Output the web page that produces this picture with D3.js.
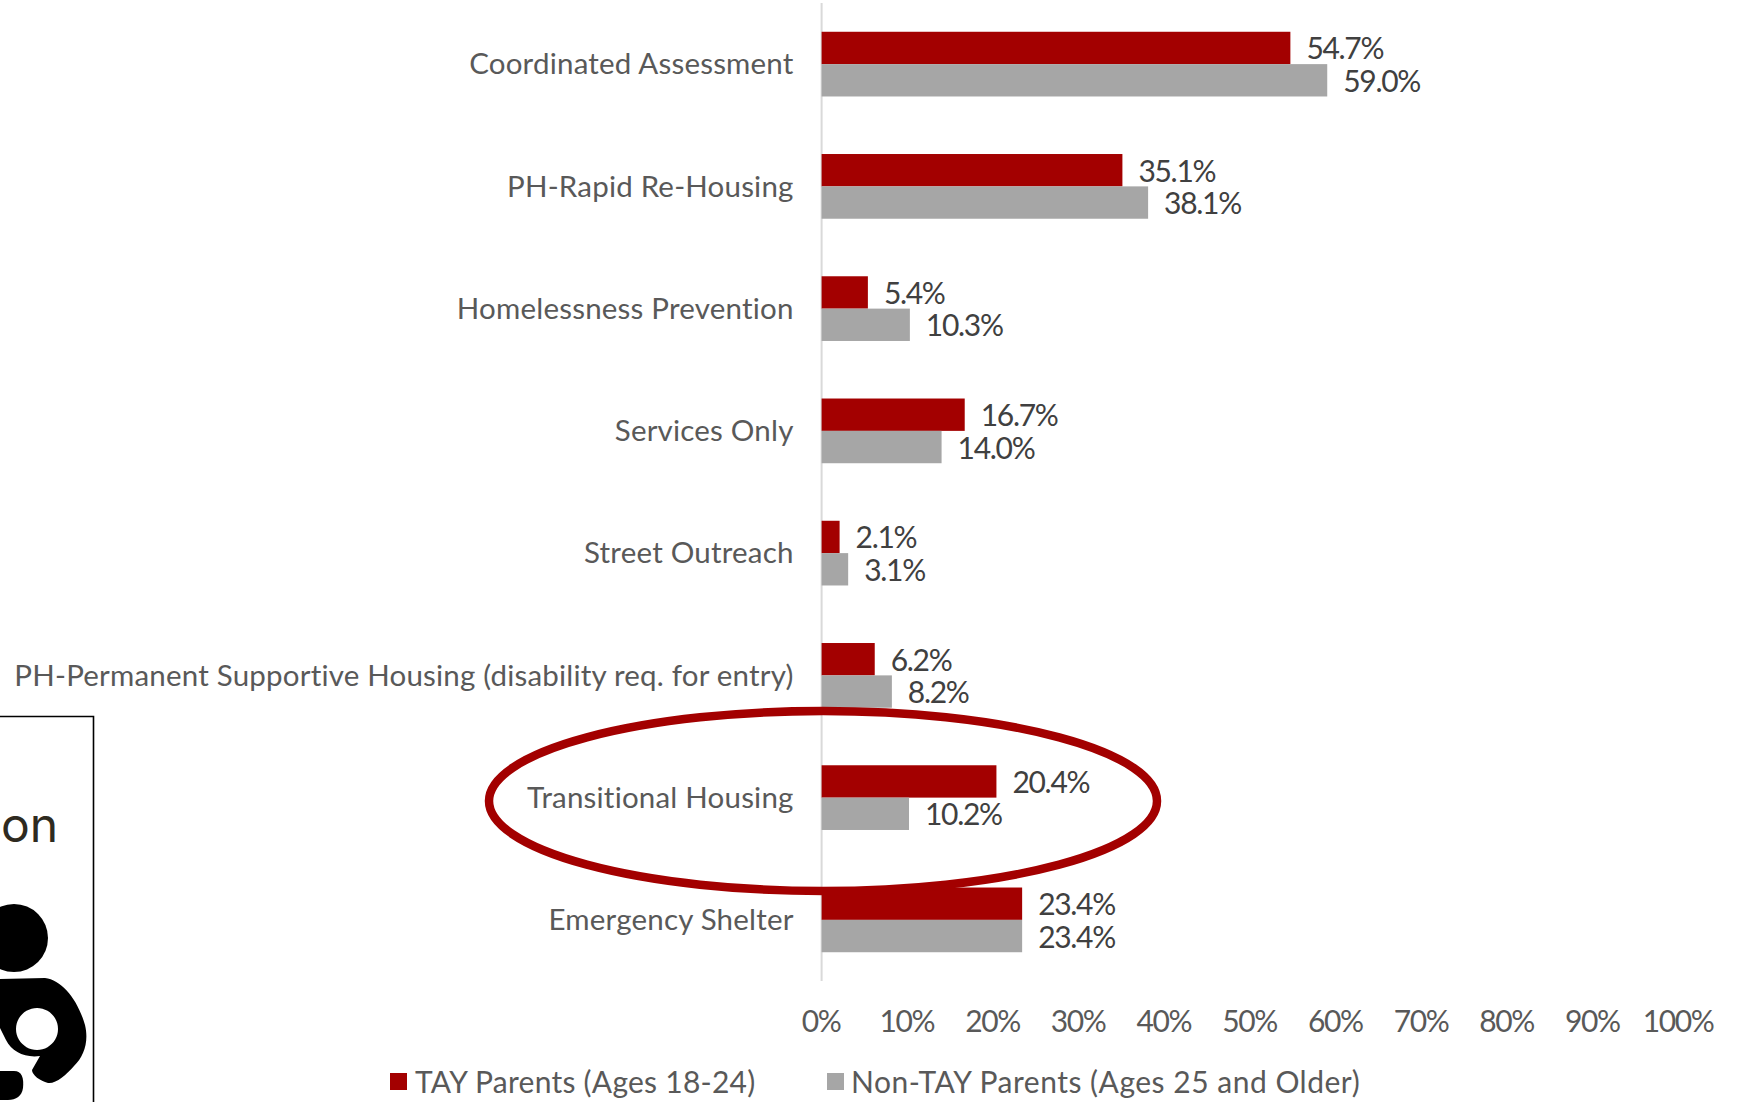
<!DOCTYPE html>
<html><head><meta charset="utf-8">
<script src="https://cdn.jsdelivr.net/npm/d3@7/dist/d3.min.js"></script>
<style>html,body{margin:0;padding:0;background:#fff}svg{display:block}text{font-family:Lato,"Open Sans",sans-serif;font-variant-ligatures:none}</style>
</head><body><svg id="c" width="1742" height="1102"></svg>
<script>
const categories=["Coordinated Assessment","PH-Rapid Re-Housing","Homelessness Prevention","Services Only","Street Outreach","PH-Permanent Supportive Housing (disability req. for entry)","Transitional Housing","Emergency Shelter"];
const tayValues=[54.7,35.1,5.4,16.7,2.1,6.2,20.4,23.4];
const nonTayValues=[59.0,38.1,10.3,14.0,3.1,8.2,10.2,23.4];
const seriesNames=["TAY Parents (Ages 18-24)","Non-TAY Parents (Ages 25 and Older)"];
const tickValues=[0,10,20,30,40,50,60,70,80,90,100];
const RED="#a30000",GRAY="#a6a6a6";
const svg=d3.select("#c");
const x=d3.scaleLinear().domain([0,100]).range([821.6,1678.6]);
const y=d3.scaleBand().domain(categories).range([3,981]).paddingInner(0.4706).paddingOuter(0.2353);
const bw=y.bandwidth()/2;
// inset box and icon
const inset=svg.append("g");
inset.append("path").attr("d","M0,716.5H93.5V1102").attr("fill","none").attr("stroke","#000").attr("stroke-width",1.6);
inset.append("text").attr("x",1).attr("y",842).attr("font-size",48).attr("fill","#2e2a20").style("font-family","Inter").text("on");
inset.append("circle").attr("cx",14).attr("cy",938).attr("r",34);
inset.append("path").attr("fill-rule","evenodd").attr("d","M0,979 L45,978 C62,980 78,1000 85,1025 C89,1042 84,1056 74,1066 C66,1075 56,1084 48,1083 C40,1081 32,1075 32,1070 L40,1056 C25,1058 12,1052 6,1040 L0,1028 Z M37,1008 a21,21 0 1,0 0.01,0 Z");
inset.append("path").attr("d","M0,1071 H14 C22,1071 24,1078 23,1088 C22,1096 16,1100 8,1100 H0 Z");
// axis
const axis=d3.axisBottom(x).tickValues(tickValues).tickFormat(d=>d+"%").tickSize(0).tickPadding(0);
const ag=svg.append("g").attr("transform","translate(-1,1011)").call(axis);
ag.select(".domain").remove();
ag.selectAll("text").attr("font-size",30).attr("fill","#595959").attr("dy","0.71em").attr("letter-spacing",-1.4).style("font-family","Lato");
// y axis line
svg.append("line").attr("x1",x(0)).attr("x2",x(0)).attr("y1",3).attr("y2",981).attr("stroke","#d9d9d9").attr("stroke-width",2);
// category labels
svg.append("g").selectAll("text").data(categories).join("text")
 .attr("x",x(0)-28).attr("y",d=>y(d)+bw).attr("dy","0.35em").attr("text-anchor","end")
 .attr("font-size",29.5).attr("letter-spacing",0.2).attr("fill","#595959").text(d=>d);
// bars
const rows=categories.map((c,i)=>({c,t:tayValues[i],n:nonTayValues[i]}));
svg.append("g").selectAll("rect").data(rows).join("rect").attr("x",x(0)).attr("y",d=>y(d.c)).attr("width",d=>x(d.t)-x(0)).attr("height",bw).attr("fill",RED);
svg.append("g").selectAll("rect").data(rows).join("rect").attr("x",x(0)).attr("y",d=>y(d.c)+bw).attr("width",d=>x(d.n)-x(0)).attr("height",bw).attr("fill",GRAY);
// value labels
const fmt=d=>d.toFixed(1)+"%";
svg.append("g").selectAll("text").data(rows).join("text").attr("x",d=>x(d.t)+16).attr("y",d=>y(d.c)+bw/2+1).attr("dy","0.35em").attr("font-size",30).attr("letter-spacing",-1.3).attr("fill","#404040").text(d=>fmt(d.t));
svg.append("g").selectAll("text").data(rows).join("text").attr("x",d=>x(d.n)+16).attr("y",d=>y(d.c)+bw*1.5+1).attr("dy","0.35em").attr("font-size",30).attr("letter-spacing",-1.3).attr("fill","#404040").text(d=>fmt(d.n));
// ellipse
svg.append("ellipse").attr("cx",823).attr("cy",801).attr("rx",334).attr("ry",90).attr("fill","none").attr("stroke",RED).attr("stroke-width",8.5);
// legend
const lg=svg.append("g");
const lx=[390,827],tx=[415,851],cols=[RED,GRAY],ls=[0.25,0.5];
seriesNames.forEach((s,i)=>{
 lg.append("rect").attr("x",lx[i]).attr("y",1073).attr("width",17).attr("height",17).attr("fill",cols[i]);
 lg.append("text").attr("x",tx[i]).attr("y",1082).attr("dy","0.35em").attr("font-size",30).attr("letter-spacing",ls[i]).attr("fill","#595959").text(s);
});
</script></body></html>
